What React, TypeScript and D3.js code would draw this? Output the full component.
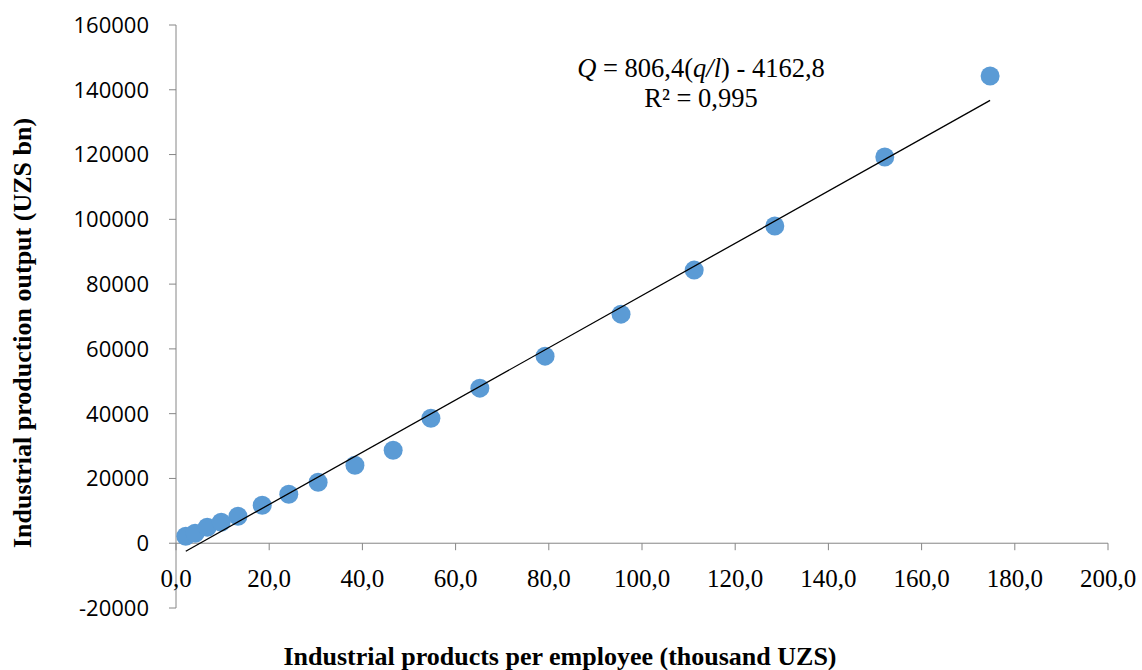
import React from 'react';
import * as d3 from 'd3';

const perEmployee = [2.1, 4.1, 6.7, 9.7, 13.3, 18.5, 24.2, 30.5, 38.4, 46.6, 54.7, 65.2, 79.2, 95.5, 111.2, 128.5, 152.1, 174.7];
const output = [2160, 3090, 4940, 6490, 8340, 11740, 15130, 18840, 24090, 28730, 38610, 47880, 57760, 70730, 84320, 97920, 119230, 144250];
const xTicks = [0, 20, 40, 60, 80, 100, 120, 140, 160, 180, 200];
const yTicks = [-20000, 0, 20000, 40000, 60000, 80000, 100000, 120000, 140000, 160000];
const slope = 806.4;
const intercept = -4162.8;

const W = 1142;
const H = 670;

const App: React.FC = () => {
  const x = d3.scaleLinear().domain([0, 200]).range([176, 1108]);
  const y = d3.scaleLinear().domain([-20000, 160000]).range([608, 25]);
  const axisColor = '#868686';
  const serif = 'Liberation Serif, Times New Roman, serif';
  const fmtX = (v: number) => v.toFixed(1).replace('.', ',');

  const x0 = d3.min(perEmployee) || 0;
  const x1 = d3.max(perEmployee) || 0;
  const trend = d3.line<number>()
    .x(d => x(d))
    .y(d => y(slope * d + intercept));

  return (
    <svg width={W} height={H} style={{ position: 'absolute', left: 0, top: 0, background: '#fff' }}>
      {/* y axis */}
      <line x1={x(0)} x2={x(0)} y1={y(160000)} y2={y(-20000)} stroke={axisColor} strokeWidth={1} />
      {yTicks.map(t => (
        <g key={t}>
          <line x1={x(0) - 7} x2={x(0)} y1={y(t)} y2={y(t)} stroke={axisColor} />
          <text x={149} y={y(t)} dy="0.36em" textAnchor="end" fontFamily="Open Sans, Lato, sans-serif" fontSize={22} fill="#000">
            {t}
          </text>
        </g>
      ))}
      {/* x axis */}
      <line x1={x(0)} x2={x(200)} y1={y(0)} y2={y(0)} stroke={axisColor} />
      {xTicks.map(t => (
        <g key={t}>
          <line x1={x(t)} x2={x(t)} y1={y(0)} y2={y(0) + 7} stroke={axisColor} />
          <text x={x(t)} y={587} textAnchor="middle" fontFamily={serif} fontSize={25} fill="#000">
            {fmtX(t)}
          </text>
        </g>
      ))}
      {/* points */}
      {perEmployee.map((v, i) => (
        <circle key={i} cx={x(v)} cy={y(output[i])} r={9.5} fill="#5B9BD5" />
      ))}
      {/* trend line */}
      <path d={trend([x0, x1]) || ''} stroke="#000" strokeWidth={1.3} fill="none" />
      {/* equation */}
      <text x={701} y={77} textAnchor="middle" fontFamily={serif} fontSize={26.5} fill="#000">
        <tspan fontStyle="italic">Q</tspan> = 806,4(<tspan fontStyle="italic">q/l</tspan>) - 4162,8
      </text>
      <text x={701} y={107} textAnchor="middle" fontFamily={serif} fontSize={26.5} fill="#000">
        R² = 0,995
      </text>
      {/* axis titles */}
      <text transform={`translate(31,333) rotate(-90)`} textAnchor="middle" fontFamily={serif} fontWeight="bold" fontSize={26} fill="#000">
        Industrial production output (UZS bn)
      </text>
      <text x={560} y={665} textAnchor="middle" fontFamily={serif} fontWeight="bold" fontSize={26} fill="#000">
        Industrial products per employee (thousand UZS)
      </text>
    </svg>
  );
};

export default App;
